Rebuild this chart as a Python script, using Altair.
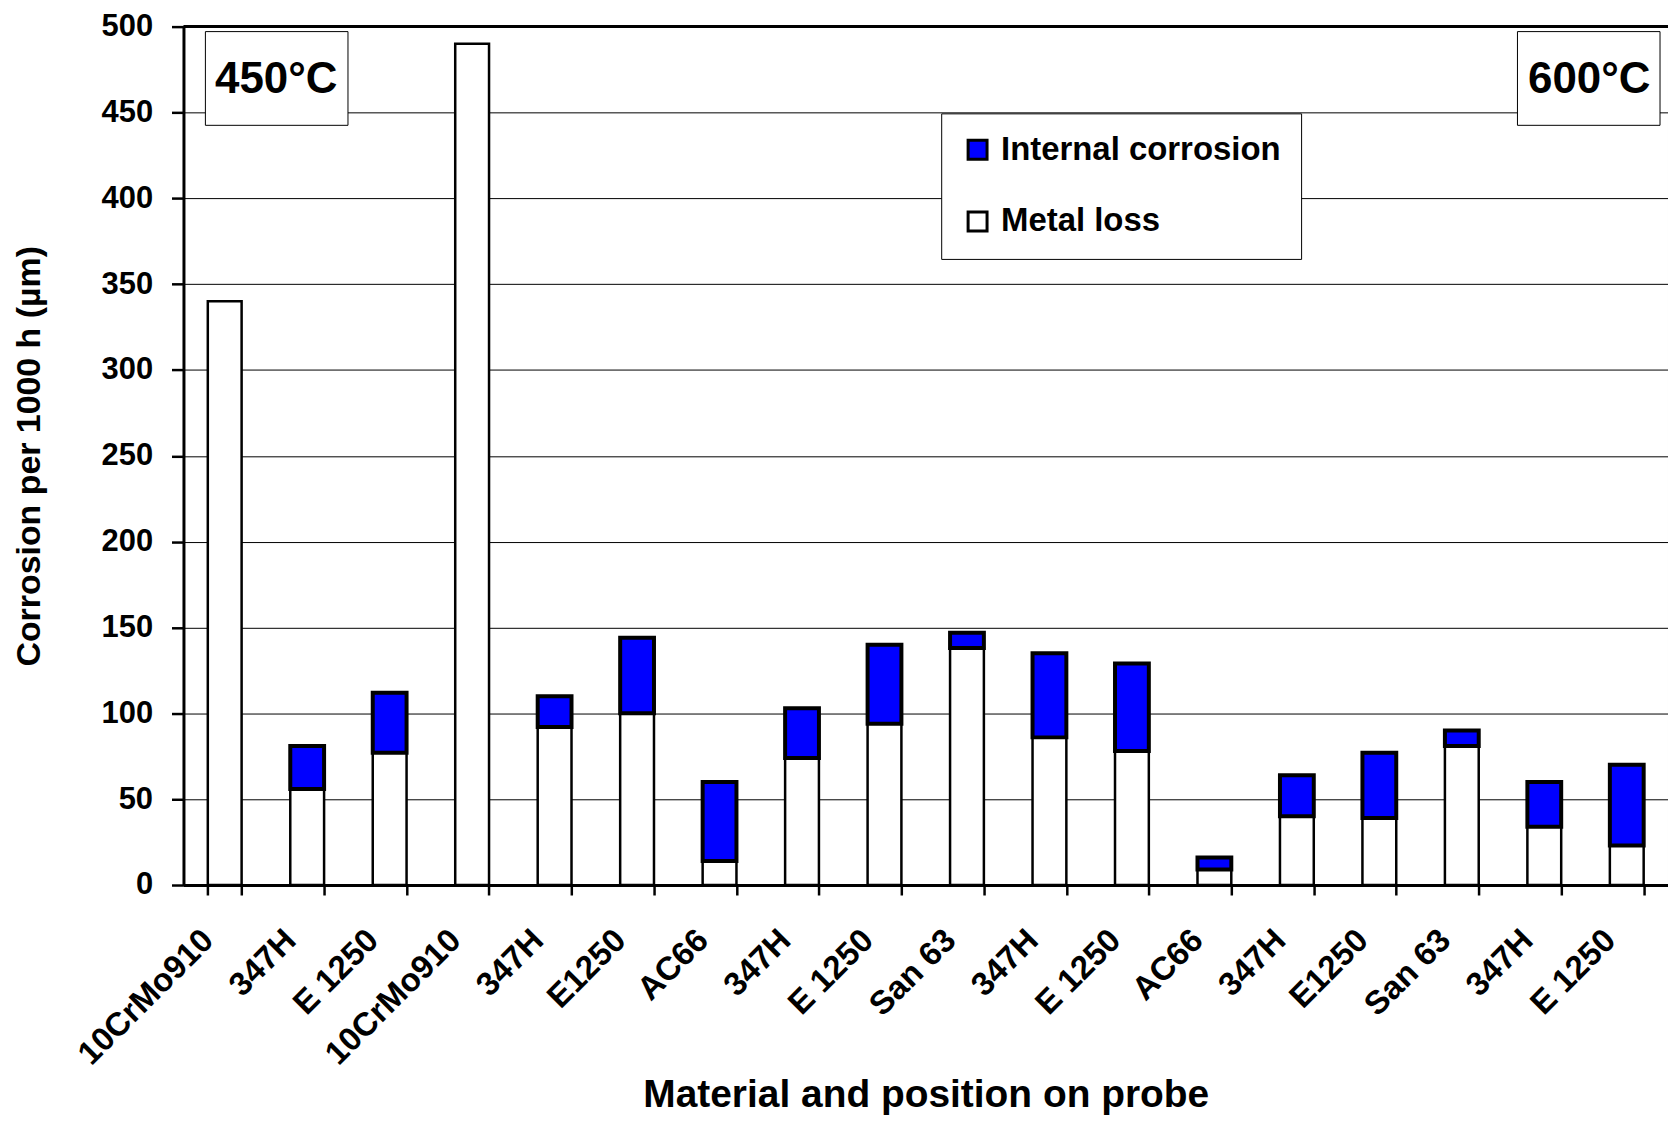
import json
import altair as alt
import pandas as pd

# ---- data ----
materials = ["10CrMo910", "347H", "E 1250", "10CrMo910", "347H", "E1250", "AC66",
             "347H", "E 1250", "San 63", "347H", "E 1250", "AC66", "347H", "E1250",
             "San 63", "347H", "E 1250"]
metal_loss = [340, 56, 77, 490, 92, 100, 14, 74, 94, 138, 86, 78, 9, 40, 39, 81, 34, 23]
internal_corrosion = [0, 25, 35, 0, 18, 44, 46, 29, 46, 9, 49, 51, 7, 24, 38, 9, 26, 47]
series_names = ["Internal corrosion", "Metal loss"]
series_colors = ["#0000FF", "#FFFFFF"]
y_ticks = [0, 50, 100, 150, 200, 250, 300, 350, 400, 450, 500]
y_max = 500
temp_labels = ["450°C", "600°C"]

rows = []
for i, (m, ic) in enumerate(zip(metal_loss, internal_corrosion)):
    rows.append({"idx": i, "series": "Metal loss", "y0": 0, "y1": m})
    if ic > 0:
        rows.append({"idx": i, "series": "Internal corrosion", "y0": m, "y1": m + ic})
df = pd.DataFrame(rows)

FONT = "Liberation Sans"
W, H = 1489, 861

label_expr = json.dumps(materials) + "[datum.value]"

bars = alt.Chart(df).mark_bar(stroke="black").encode(
    x=alt.X("idx:O",
            scale=alt.Scale(paddingInner=0.59, paddingOuter=0.295),
            axis=alt.Axis(title="Material and position on probe",
                          labelExpr=label_expr, labelAngle=-45,
                          labelAlign="right", labelBaseline="middle",
                          labelPadding=40, labelOffset=-17,
                          labelFontSize=33,
                          tickBand="extent", tickSize=10, tickWidth=2.5,
                          tickColor="black", domainWidth=3, domainColor="black",
                          grid=False, titleFontSize=39,
                          titleBaseline="alphabetic", titleY=222, titleX=W / 2)),
    y=alt.Y("y0:Q",
            scale=alt.Scale(domain=[0, y_max], nice=False),
            axis=alt.Axis(title="Corrosion per 1000 h (µm)", values=y_ticks,
                          labelFontSize=31, labelPadding=19, tickSize=12,
                          tickWidth=2.5, tickColor="black", domainWidth=3,
                          domainColor="black", grid=True, gridColor="#000000",
                          gridWidth=1, titleFontSize=34, titleBaseline="middle",
                          titleX=-154, titleY=H / 2, titleAngle=-90)),
    y2="y1:Q",
    color=alt.Color("series:N",
                    scale=alt.Scale(domain=series_names, range=series_colors),
                    legend=alt.Legend(title=None, orient="none", legendX=760,
                                      legendY=87, direction="vertical",
                                      strokeColor="black", fillColor="white",
                                      padding=20, rowPadding=38,
                                      labelFontSize=33, labelFont=FONT,
                                      labelFontWeight="bold", labelColor="black",
                                      symbolType="square", symbolSize=361,
                                      symbolStrokeColor="black",
                                      symbolStrokeWidth=3, symbolOpacity=1,
                                      labelOffset=7, labelLimit=0)),
    strokeWidth=alt.condition(alt.datum.series == "Internal corrosion",
                              alt.value(4), alt.value(2.5)),
)

top_line = alt.Chart(pd.DataFrame({"v": [y_max]})).mark_rule(
    color="black", strokeWidth=3).encode(y="v:Q")

box_df = pd.DataFrame({"label": temp_labels})
box450 = alt.Chart(box_df.iloc[[0]]).mark_rect(
    fill="white", stroke="black", strokeWidth=1).encode(
    x=alt.value(22), x2=alt.value(165), y=alt.value(5), y2=alt.value(99))
txt450 = alt.Chart(box_df.iloc[[0]]).mark_text(
    font=FONT, fontWeight="bold", fontSize=44, color="black",
    align="center", baseline="middle").encode(
    text="label:N", x=alt.value(93), y=alt.value(54))
box600 = alt.Chart(box_df.iloc[[1]]).mark_rect(
    fill="white", stroke="black", strokeWidth=1).encode(
    x=alt.value(W - 151), x2=alt.value(W - 8), y=alt.value(5), y2=alt.value(99))
txt600 = alt.Chart(box_df.iloc[[1]]).mark_text(
    font=FONT, fontWeight="bold", fontSize=44, color="black",
    align="center", baseline="middle").encode(
    text="label:N", x=alt.value(W - 79), y=alt.value(54))

chart = alt.layer(bars, top_line, box450, txt450, box600, txt600).properties(
    width=W, height=H,
    autosize=alt.AutoSizeParams(type="none"),
    padding={"left": 176, "top": 17, "right": 0, "bottom": 230},
).configure_axis(
    labelFont=FONT, titleFont=FONT, labelFontWeight="bold",
    titleFontWeight="bold", labelColor="black", titleColor="black",
).configure_view(stroke="#888888", strokeWidth=1)

chart.save("out.html", embed_options={"renderer": "svg", "actions": False})
